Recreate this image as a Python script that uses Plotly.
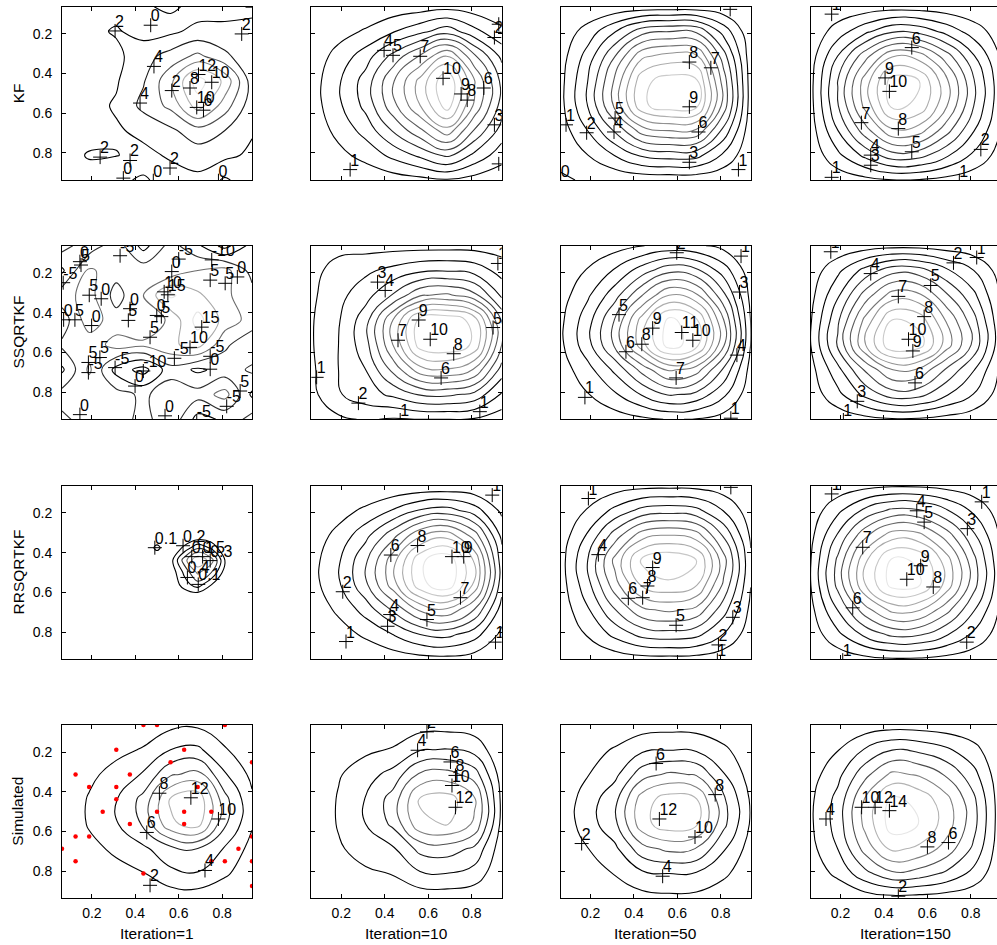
import plotly.graph_objects as go

W, H = 997, 945
FONT = "Liberation Sans, Arial, Helvetica, sans-serif"

# Regular 8x8 sampling grid of the unit-square domain (cell centres)
grid_xy = [0.0625, 0.1875, 0.3125, 0.4375, 0.5625, 0.6875, 0.8125, 0.9375]

# ---------------- KF ----------------
kf_1 = [
    [1.2, 1.4, 1.3, 0.4, -0.6, 1.0, 1.4, 1.5],
    [1.0, 1.5, 2.2, 1.3, 1.6, 2.6, 2.4, 2.6],
    [0.9, 1.2, 1.5, 3.2, 4.8, 6.5, 4.5, 2.4],
    [1.0, 1.3, 1.8, 3.8, 7.5, 13.0, 9.5, 3.0],
    [1.2, 1.4, 2.2, 4.6, 6.5, 11.0, 7.0, 2.8],
    [1.3, 1.5, 1.8, 2.4, 3.6, 5.2, 4.0, 2.2],
    [1.5, 2.1, 2.05, 1.6, 2.2, 3.0, 2.5, 1.6],
    [1.4, 1.5, 0.6, -0.4, 1.3, 1.5, -0.3, 1.2],
]
kf_10 = [
    [0.03, 0.11, 0.21, 0.36, 0.51, 0.67, 0.43, 0.23],
    [0.16, 0.61, 1.12, 1.92, 2.72, 3.58, 2.30, 1.22],
    [0.36, 1.37, 2.52, 4.32, 6.12, 8.06, 5.18, 2.74],
    [0.49, 1.86, 3.43, 5.88, 8.33, 10.98, 7.06, 3.72],
    [0.47, 1.79, 3.29, 5.64, 7.99, 10.53, 6.77, 3.57],
    [0.34, 1.29, 2.38, 4.08, 5.78, 7.62, 4.90, 2.58],
    [0.19, 0.72, 1.33, 2.28, 3.23, 4.26, 2.74, 1.44],
    [0.04, 0.15, 0.28, 0.48, 0.68, 0.90, 0.58, 0.30],
]
kf_50 = [
    [0.03, 0.12, 0.26, 0.40, 0.43, 0.42, 0.23, 0.02],
    [0.32, 1.43, 2.94, 4.60, 4.97, 4.83, 2.62, 0.23],
    [0.55, 2.42, 4.99, 7.80, 8.42, 8.19, 4.45, 0.39],
    [0.68, 3.01, 6.21, 9.70, 10.48, 10.19, 5.53, 0.49],
    [0.69, 3.04, 6.27, 9.80, 10.58, 10.29, 5.59, 0.49],
    [0.46, 2.02, 4.16, 6.50, 7.02, 6.83, 3.71, 0.33],
    [0.22, 0.99, 2.05, 3.20, 3.46, 3.36, 1.82, 0.16],
    [-0.10, 0.09, 0.19, 0.30, 0.32, 0.32, 0.17, 0.02],
]
kf_150 = [
    [0.04, 0.21, 0.38, 0.54, 0.51, 0.37, 0.21, 0.07],
    [0.25, 1.48, 2.74, 3.85, 3.67, 2.66, 1.51, 0.47],
    [0.52, 3.03, 5.62, 7.92, 7.55, 5.48, 3.11, 0.96],
    [0.69, 4.02, 7.45, 10.49, 10.00, 7.25, 4.12, 1.27],
    [0.67, 3.94, 7.30, 10.27, 9.79, 7.10, 4.03, 1.25],
    [0.51, 2.99, 5.55, 7.81, 7.45, 5.40, 3.07, 0.95],
    [0.30, 1.76, 3.27, 4.60, 4.39, 3.18, 1.81, 0.56],
    [0.06, 0.37, 0.68, 0.96, 0.92, 0.67, 0.38, 0.12],
]

# ---------------- SSQRTKF ----------------
ssq_1 = [
    [2.0, -3.0, 3.0, -7.0, 2.0, -4.0, -12.0, -3.0],
    [-6.0, 6.0, 2.0, 3.0, 1.0, 5.0, 7.0, -2.0],
    [3.0, 7.0, -2.0, 5.0, 16.0, 11.0, 6.0, 2.0],
    [-3.0, 8.0, 2.0, 1.0, 6.0, 17.0, 8.0, 3.0],
    [1.0, 2.0, 7.0, 6.0, 9.0, 12.0, 1.0, -4.0],
    [-6.0, 6.0, -7.0, -12.0, -2.0, -6.0, -3.0, 1.0],
    [2.0, 1.0, 2.0, -1.0, 3.0, 2.0, 7.0, -6.0],
    [-1.0, 2.0, 3.0, -2.0, 4.0, -7.0, -4.0, 2.0],
]
ssq_10 = [
    [0.3, 0.6, 0.6, 0.6, 0.6, 0.6, 0.6, 0.5],
    [0.6, 1.5, 1.8, 2.3, 2.8, 2.9, 2.6, 1.6],
    [0.8, 1.7, 2.6, 4.1, 5.9, 6.2, 5.3, 2.8],
    [0.9, 1.9, 3.6, 7.0, 10.4, 10.8, 9.6, 4.9],
    [0.9, 2.0, 3.6, 7.0, 10.5, 10.9, 9.8, 5.0],
    [0.8, 2.0, 3.0, 5.3, 7.6, 7.9, 6.9, 3.6],
    [0.7, 1.9, 2.6, 3.2, 4.1, 4.2, 3.7, 1.9],
    [0.3, 0.8, 1.1, 0.9, 1.0, 1.0, 0.9, 0.4],
]
ssq_50 = [
    [0.09, 0.30, 0.58, 0.97, 1.30, 1.17, 0.69, 0.11],
    [0.32, 1.08, 2.12, 3.52, 4.72, 4.24, 2.52, 0.40],
    [0.54, 1.84, 3.60, 5.98, 8.02, 7.21, 4.28, 0.68],
    [0.77, 2.59, 5.09, 8.45, 11.33, 10.18, 6.05, 0.96],
    [0.78, 2.65, 5.19, 8.62, 11.56, 10.39, 6.17, 0.98],
    [0.49, 1.65, 3.23, 5.37, 7.20, 6.47, 3.84, 0.61],
    [0.28, 0.95, 1.86, 3.08, 4.13, 3.71, 2.21, 0.35],
    [0.07, 0.24, 0.48, 0.79, 1.06, 0.95, 0.57, 0.09],
]
ssq_150 = [
    [0.06, 0.25, 0.48, 0.66, 0.64, 0.46, 0.29, 0.08],
    [0.42, 1.76, 3.36, 4.62, 4.45, 3.19, 2.02, 0.55],
    [0.68, 2.86, 5.44, 7.48, 7.21, 5.17, 3.26, 0.88],
    [0.91, 3.82, 7.28, 10.01, 9.65, 6.92, 4.37, 1.18],
    [0.99, 4.16, 7.92, 10.89, 10.49, 7.52, 4.75, 1.29],
    [0.64, 2.69, 5.12, 7.04, 6.78, 4.86, 3.07, 0.83],
    [0.41, 1.72, 3.28, 4.51, 4.35, 3.12, 1.97, 0.53],
    [0.08, 0.34, 0.64, 0.88, 0.85, 0.61, 0.38, 0.10],
]

# ---------------- RRSQRTKF ----------------
# first iteration: only a small local bump, sampled on a refined grid
rrs_1_x = [0.0625, 0.4375, 0.5, 0.5625, 0.625, 0.6875, 0.75, 0.8125, 0.9375]
rrs_1_y = [0.0625, 0.3125, 0.375, 0.4375, 0.5, 0.5625, 0.625, 0.9375]
rrs_1 = [
    [0, 0, 0, 0, 0, 0, 0, 0, 0],
    [0, 0, 0, 0, 0, 0, 0, 0, 0],
    [0, 0, 0.13, 0, 0.12, 0.28, 0.18, 0, 0],
    [0, 0, 0, 0.05, 0.35, 0.60, 0.45, 0.10, 0],
    [0, 0, 0, 0.02, 0.22, 0.42, 0.30, 0.05, 0],
    [0, 0, 0, 0, 0.15, 0.25, 0.10, 0, 0],
    [0, 0, 0, 0, 0, 0, 0, 0, 0],
    [0, 0, 0, 0, 0, 0, 0, 0, 0],
]
rrs_10 = [
    [0.01, 0.04, 0.08, 0.13, 0.20, 0.22, 0.16, 0.05],
    [0.19, 0.59, 1.21, 2.08, 3.10, 3.41, 2.48, 0.78],
    [0.41, 1.31, 2.69, 4.62, 6.90, 7.59, 5.52, 1.73],
    [0.59, 1.86, 3.82, 6.57, 9.80, 10.78, 7.84, 2.45],
    [0.58, 1.84, 3.78, 6.50, 9.70, 10.67, 7.76, 2.43],
    [0.37, 1.18, 2.42, 4.15, 6.20, 6.82, 4.96, 1.55],
    [0.18, 0.57, 1.17, 2.01, 3.00, 3.30, 2.40, 0.75],
    [0.04, 0.11, 0.23, 0.40, 0.60, 0.66, 0.48, 0.15],
]
rrs_50 = [
    [0.04, 0.22, 0.46, 0.67, 0.71, 0.66, 0.39, 0.08],
    [0.21, 1.09, 2.28, 3.33, 3.57, 3.29, 1.96, 0.42],
    [0.41, 2.14, 4.49, 6.56, 7.04, 6.49, 3.86, 0.83],
    [0.58, 3.01, 6.31, 9.22, 9.89, 9.12, 5.43, 1.16],
    [0.52, 2.67, 5.59, 8.17, 8.77, 8.08, 4.82, 1.03],
    [0.37, 1.89, 3.97, 5.80, 6.22, 5.73, 3.42, 0.73],
    [0.21, 1.09, 2.28, 3.33, 3.57, 3.29, 1.96, 0.42],
    [0.04, 0.19, 0.39, 0.57, 0.61, 0.56, 0.34, 0.07],
]
rrs_150 = [
    [0.08, 0.35, 0.65, 0.85, 0.82, 0.62, 0.36, 0.10],
    [0.40, 1.76, 3.24, 4.24, 4.12, 3.12, 1.80, 0.48],
    [0.71, 3.12, 5.75, 7.53, 7.31, 5.54, 3.20, 0.85],
    [0.96, 4.22, 7.78, 10.18, 9.89, 7.49, 4.32, 1.15],
    [0.98, 4.31, 7.94, 10.39, 10.09, 7.64, 4.41, 1.18],
    [0.69, 3.04, 5.59, 7.31, 7.11, 5.38, 3.11, 0.83],
    [0.40, 1.76, 3.24, 4.24, 4.12, 3.12, 1.80, 0.48],
    [0.08, 0.35, 0.65, 0.85, 0.82, 0.62, 0.36, 0.10],
]

# ---------------- Simulated (truth) ----------------
sim_1 = [
    [0.04, 0.20, 0.40, 0.82, 1.50, 1.66, 0.82, 0.29],
    [0.10, 0.70, 1.40, 2.18, 4.00, 4.42, 2.18, 0.77],
    [0.19, 1.50, 2.80, 4.22, 7.75, 8.56, 4.22, 1.49],
    [0.29, 2.20, 3.90, 6.66, 12.25, 13.52, 6.66, 2.35],
    [0.28, 2.20, 3.80, 6.32, 11.63, 12.83, 6.32, 2.23],
    [0.13, 1.40, 2.40, 3.60, 5.38, 5.93, 3.80, 1.30],
    [0.08, 0.70, 1.30, 1.90, 3.50, 3.86, 2.30, 0.80],
    [0.02, 0.15, 0.30, 0.41, 0.75, 0.83, 0.41, 0.14],
]
sim_10 = [
    [0.0, 0.19, 0.40, 0.63, 1.13, 1.19, 0.95, 0.14],
    [0.0, 0.90, 1.60, 2.17, 3.88, 4.09, 3.26, 0.47],
    [0.0, 1.80, 3.20, 4.69, 8.38, 8.84, 7.04, 1.01],
    [0.0, 2.20, 4.10, 6.86, 12.25, 12.94, 10.29, 1.47],
    [0.0, 2.20, 4.00, 6.44, 11.50, 12.14, 9.66, 1.38],
    [0.0, 1.70, 3.00, 3.71, 6.63, 7.00, 5.57, 0.80],
    [0.0, 0.90, 1.60, 2.10, 3.75, 3.96, 3.15, 0.45],
    [0.0, 0.13, 0.30, 0.42, 0.75, 0.79, 0.63, 0.09],
]
sim_50 = [
    [0.06, 0.28, 0.50, 1.04, 1.22, 1.13, 0.60, 0.16],
    [0.30, 1.20, 2.20, 3.60, 3.90, 3.70, 2.40, 0.70],
    [0.43, 1.92, 3.47, 7.13, 8.37, 7.81, 4.15, 1.12],
    [0.67, 2.98, 5.38, 11.04, 12.96, 12.10, 6.43, 1.73],
    [0.69, 3.04, 5.49, 11.27, 13.23, 12.35, 6.57, 1.76],
    [0.44, 1.95, 3.53, 7.25, 8.51, 7.94, 4.22, 1.13],
    [0.30, 1.20, 2.10, 3.60, 4.00, 3.80, 2.40, 0.70],
    [0.08, 0.34, 0.62, 1.27, 1.49, 1.39, 0.74, 0.20],
]
sim_150 = [
    [0.12, 0.34, 0.75, 1.06, 0.99, 0.78, 0.48, 0.06],
    [0.66, 1.91, 4.17, 5.93, 5.50, 4.37, 2.65, 0.31],
    [1.17, 3.38, 7.38, 10.49, 9.73, 7.73, 4.69, 0.55],
    [1.62, 4.66, 10.17, 14.44, 13.40, 10.64, 6.46, 0.76],
    [1.68, 4.85, 10.59, 15.05, 13.96, 11.09, 6.73, 0.79],
    [1.39, 4.02, 8.77, 12.46, 11.56, 9.18, 5.58, 0.66],
    [0.85, 2.45, 5.35, 7.60, 7.05, 5.60, 3.40, 0.40],
    [0.14, 0.39, 0.86, 1.22, 1.13, 0.90, 0.54, 0.06],
]

# Observation locations
obs_x = [0.4375, 0.5, 0.8125, 0.3125, 0.625, 0.5625, 0.9375, 0.125, 0.375,
         0.1875, 0.3125, 0.6875, 0.3125, 0.25, 0.5, 0.625, 0.75, 0.375, 0.625,
         0.125, 0.1875, 0.9375, 0.0625, 0.875, 0.125, 0.75, 0.8125, 0.9375,
         0.4375, 0.9375]
obs_y = [0.0625, 0.0625, 0.0625, 0.1875, 0.1875, 0.25, 0.25, 0.3125, 0.3125,
         0.375, 0.375, 0.375, 0.4375, 0.5, 0.5, 0.5, 0.5, 0.5625, 0.5625,
         0.625, 0.625, 0.625, 0.6875, 0.6875, 0.75, 0.75, 0.75, 0.75,
         0.8125, 0.875]

# Contour labels (x, y, level text)
kf_1_labels = [(0.307, 0.185, "2"), (0.471, 0.156, "0"), (0.89, 0.2, "2"),
               (0.486, 0.364, "4"), (0.691, 0.405, "12"), (0.752, 0.444, "10"),
               (0.652, 0.473, "8"), (0.568, 0.486, "2"), (0.422, 0.549, "4"),
               (0.683, 0.571, "10"), (0.714, 0.585, "6"), (0.238, 0.822, "2"),
               (0.376, 0.839, "2"), (0.345, 0.928, "0"), (0.483, 0.941, "0"),
               (0.56, 0.877, "2"), (0.783, 0.941, "0"), (0.94, 0.065, "")]
kf_10_labels = [(0.397, 0.283, "4"), (0.438, 0.308, "5"), (0.563, 0.313, "7"),
                (0.668, 0.424, "10"), (0.751, 0.503, "9"), (0.779, 0.534, "8"),
                (0.855, 0.473, "6"), (0.904, 0.218, "2"), (0.924, 0.151, ""),
                (0.904, 0.659, "3"), (0.924, 0.856, ""), (0.241, 0.885, "1")]
kf_50_labels = [(0.655, 0.342, "8"), (0.754, 0.371, "7"), (0.655, 0.568, "9"),
                (0.697, 0.695, "6"), (0.655, 0.848, "3"), (0.881, 0.885, "1"),
                (0.843, 0.076, ""), (0.313, 0.625, "5"), (0.308, 0.695, "4"),
                (0.182, 0.699, "2"), (0.087, 0.659, "1"), (0.0625, 0.941, "0")]
kf_150_labels = [(0.159, 0.1, "1"), (0.528, 0.269, "6"), (0.405, 0.422, "9"),
                 (0.425, 0.49, "10"), (0.296, 0.648, "7"), (0.466, 0.678, "8"),
                 (0.528, 0.795, "5"), (0.339, 0.812, "4"), (0.339, 0.863, "3"),
                 (0.846, 0.783, "2"), (0.159, 0.924, "1"), (0.747, 0.941, "1")]

ssq_1_labels = [(0.145, 0.143, "0"), (0.15, 0.16, "5"), (0.068, 0.249, "-5"),
                (0.188, 0.312, "5"), (0.243, 0.33, "0"), (0.33, 0.113, "-5"),
                (0.568, 0.193, "0"), (0.6, 0.13, "-5"), (0.752, 0.134, "-10"),
                (0.745, 0.236, "5"), (0.814, 0.252, "5"), (0.87, 0.22, "0"),
                (0.533, 0.295, "10"), (0.55, 0.31, "15"), (0.376, 0.38, "0"),
                (0.368, 0.439, "5"), (0.499, 0.414, "0"), (0.52, 0.42, "5"),
                (0.468, 0.524, "5"), (0.706, 0.473, "15"), (0.652, 0.575, "10"),
                (0.122, 0.436, "5"), (0.07, 0.436, "0"), (0.199, 0.465, "0"),
                (0.237, 0.626, "5"), (0.184, 0.651, "5"), (0.184, 0.702, "-5"),
                (0.307, 0.677, "-5"), (0.437, 0.694, "-10"), (0.399, 0.77, "0"),
                (0.58, 0.63, "-5"), (0.745, 0.685, "0"), (0.745, 0.62, "-5"),
                (0.145, 0.914, "0"), (0.537, 0.92, "0"), (0.683, 0.948, "-5"),
                (0.821, 0.872, "-5"), (0.883, 0.795, "5")]
ssq_10_labels = [(0.367, 0.246, "3"), (0.402, 0.288, "4"), (0.556, 0.437, "9"),
                 (0.461, 0.539, "7"), (0.609, 0.534, "10"), (0.717, 0.607, "8"),
                 (0.659, 0.729, "6"), (0.898, 0.475, "5"), (0.92, 0.152, "1"),
                 (0.087, 0.726, "1"), (0.279, 0.856, "2"), (0.471, 0.941, "1"),
                 (0.837, 0.899, "1")]
ssq_50_labels = [(0.597, 0.098, "2"), (0.893, 0.115, "1"), (0.886, 0.296, "3"),
                 (0.331, 0.41, "5"), (0.486, 0.478, "9"), (0.436, 0.559, "8"),
                 (0.363, 0.597, "6"), (0.62, 0.5, "11"), (0.671, 0.539, "10"),
                 (0.594, 0.729, "7"), (0.874, 0.614, "4"), (0.174, 0.827, "1"),
                 (0.846, 0.932, "1")]
ssq_150_labels = [(0.155, 0.093, "1"), (0.339, 0.203, "4"), (0.72, 0.149, "2"),
                  (0.827, 0.122, "1"), (0.615, 0.263, "5"), (0.466, 0.318, "7"),
                  (0.585, 0.42, "8"), (0.513, 0.534, "10"), (0.533, 0.593, "9"),
                  (0.543, 0.754, "6"), (0.277, 0.847, "3"), (0.213, 0.941, "1")]

rrs_1_labels = [(0.49, 0.375, "0.1"), (0.62, 0.365, "0.2"), (0.66, 0.42, "0.1"),
                (0.71, 0.42, "0.5"), (0.745, 0.44, "0.3"), (0.64, 0.525, "0.4"),
                (0.69, 0.56, "0.1")]
rrs_10_labels = [(0.894, 0.11, "1"), (0.428, 0.412, "6"), (0.551, 0.364, "8"),
                 (0.709, 0.42, "10"), (0.763, 0.42, "9"), (0.207, 0.597, "2"),
                 (0.748, 0.627, "7"), (0.425, 0.712, "4"), (0.413, 0.771, "3"),
                 (0.594, 0.737, "5"), (0.222, 0.848, "1"), (0.909, 0.851, "1")]
rrs_50_labels = [(0.19, 0.127, "1"), (0.846, 0.071, "1"), (0.236, 0.41, "4"),
                 (0.486, 0.475, "9"), (0.462, 0.568, "8"), (0.44, 0.627, "7"),
                 (0.374, 0.63, "6"), (0.594, 0.766, "5"), (0.855, 0.726, "3"),
                 (0.789, 0.865, "2"), (0.784, 0.942, "1")]
rrs_150_labels = [(0.159, 0.104, "1"), (0.551, 0.189, "4"), (0.585, 0.246, "5"),
                  (0.784, 0.279, "3"), (0.85, 0.144, "1"), (0.302, 0.373, "7"),
                  (0.569, 0.466, "9"), (0.505, 0.534, "10"), (0.627, 0.573, "8"),
                  (0.256, 0.678, "6"), (0.781, 0.851, "2"), (0.21, 0.942, "1")]

sim_1_labels = [(0.511, 0.407, "8"), (0.656, 0.43, "12"), (0.783, 0.537, "10"),
                (0.453, 0.605, "6"), (0.721, 0.797, "4"), (0.468, 0.872, "2")]
sim_10_labels = [(0.594, 0.097, "2"), (0.551, 0.19, "4"), (0.702, 0.249, "6"),
                 (0.725, 0.317, "8"), (0.709, 0.368, "10"), (0.725, 0.478, "12")]
sim_50_labels = [(0.502, 0.257, "6"), (0.774, 0.414, "8"), (0.517, 0.537, "12"),
                 (0.681, 0.628, "10"), (0.159, 0.661, "2"), (0.532, 0.826, "4")]
sim_150_labels = [(0.133, 0.537, "4"), (0.297, 0.478, "10"), (0.359, 0.478, "12"),
                  (0.425, 0.495, "14"), (0.6, 0.678, "8"), (0.697, 0.656, "6"),
                  (0.466, 0.927, "2")]

row_names = ["KF", "SSQRTKF", "RRSQRTKF", "Simulated"]
col_names = ["Iteration=1", "Iteration=10", "Iteration=50", "Iteration=150"]
tick_vals = [0.2, 0.4, 0.6, 0.8]

fields = [
    [kf_1, kf_10, kf_50, kf_150],
    [ssq_1, ssq_10, ssq_50, ssq_150],
    [rrs_1, rrs_10, rrs_50, rrs_150],
    [sim_1, sim_10, sim_50, sim_150],
]
labels = [
    [kf_1_labels, kf_10_labels, kf_50_labels, kf_150_labels],
    [ssq_1_labels, ssq_10_labels, ssq_50_labels, ssq_150_labels],
    [rrs_1_labels, rrs_10_labels, rrs_50_labels, rrs_150_labels],
    [sim_1_labels, sim_10_labels, sim_50_labels, sim_150_labels],
]
# (start, end, step) of contour levels
levels = [
    [(0, 12, 2), (0, 11, 1), (0, 11, 1), (0, 11, 1)],
    [(-10, 15, 5), (0, 11, 1), (0, 11, 1), (0, 11, 1)],
    [(0.1, 0.6, 0.1), (0, 10, 1), (0, 10, 1), (0, 10, 1)],
    [(2, 14, 2), (2, 14, 2), (2, 14, 2), (2, 14, 2)],
]

# Panel placement in pixels
col_px = [(62.0, 252.0), (311.3, 501.7), (560.7, 750.7), (810.7, 1000.7)]
row_px = [(6.7, 180.0), (245.7, 419.3), (485.7, 659.3), (725.0, 898.3)]
X0, X1 = 0.0625, 0.9375

gray_scale = [[0.0, "#000000"], [0.25, "#000000"], [1.0, "#e6e6e6"]]

fig = go.Figure()
layout = dict(
    width=W, height=H,
    margin=dict(l=0, r=0, t=0, b=0),
    paper_bgcolor="white", plot_bgcolor="white",
    showlegend=False,
    font=dict(family=FONT, size=14, color="black"),
)

for r in range(4):
    for c in range(4):
        k = r * 4 + c + 1
        xa = "x" if k == 1 else f"x{k}"
        ya = "y" if k == 1 else f"y{k}"
        z = fields[r][c]
        if r == 2 and c == 0:
            gx, gy = rrs_1_x, rrs_1_y
        else:
            gx, gy = grid_xy, grid_xy
        noisy = (c == 0 and r < 3)
        s, e, d = levels[r][c]
        fig.add_trace(go.Contour(
            x=gx, y=gy, z=z, xaxis=xa, yaxis=ya,
            autocontour=False,
            contours=dict(start=s, end=e, size=d, coloring="lines", showlabels=False),
            line=dict(width=1.1, smoothing=(1.0 if noisy else 1.3)),
            colorscale=gray_scale, showscale=False, hoverinfo="skip",
        ))
        if r == 3 and c == 0:
            fig.add_trace(go.Scatter(
                x=obs_x, y=obs_y, xaxis=xa, yaxis=ya, mode="markers",
                marker=dict(color="red", size=4.5, line=dict(width=0)),
                hoverinfo="skip",
            ))
        lab = labels[r][c]
        lx = [p[0] for p in lab]
        ly = [p[1] for p in lab]
        # "+" marks where each label sits on its contour
        fig.add_trace(go.Scatter(
            x=lx, y=ly, xaxis=xa, yaxis=ya, mode="markers",
            marker=dict(symbol="cross-thin", size=10, color="black",
                        line=dict(width=1, color="black")),
            hoverinfo="skip",
        ))
        # level value written just above-right of the "+"
        fig.add_trace(go.Scatter(
            x=lx, y=ly, text=[p[2] for p in lab], xaxis=xa, yaxis=ya,
            mode="text", marker=dict(size=1),
            textposition="top right",
            textfont=dict(family=FONT, size=16, color="black"),
            hoverinfo="skip",
        ))

        px0, px1 = col_px[c]
        py0, py1 = row_px[r]
        right_px = min(px1, W)
        xr1 = X0 + (X1 - X0) * (right_px - px0) / (px1 - px0)
        last_col = c == 3
        layout["xaxis" if k == 1 else f"xaxis{k}"] = dict(
            domain=[px0 / W, right_px / W], range=[X0, xr1], anchor=ya,
            showline=True, linecolor="black", linewidth=1, mirror="ticks",
            ticks="inside", ticklen=4, tickwidth=1, tickcolor="black",
            tickvals=tick_vals, showticklabels=(r == 3), ticklabelstandoff=2,
            tickfont=dict(family=FONT, size=14, color="black"),
            showgrid=False, zeroline=False, fixedrange=True,
        )
        layout["yaxis" if k == 1 else f"yaxis{k}"] = dict(
            domain=[(H - py1) / H, (H - py0) / H], range=[X1, X0], anchor=xa,
            showline=True, linecolor="black", linewidth=1,
            mirror=(False if last_col else "ticks"),
            ticks="inside", ticklen=4, tickwidth=1, tickcolor="black",
            tickvals=tick_vals, showticklabels=(c == 0), ticklabelstandoff=6,
            tickfont=dict(family=FONT, size=14, color="black"),
            showgrid=False, zeroline=False, fixedrange=True,
        )

annotations = []
for r, name in enumerate(row_names):
    cy = (row_px[r][0] + row_px[r][1]) / 2
    annotations.append(dict(
        text=name, x=18 / W, y=(H - cy) / H, xref="paper", yref="paper",
        textangle=-90, showarrow=False, xanchor="center", yanchor="middle",
        font=dict(family=FONT, size=15.5, color="black"),
    ))
for c, name in enumerate(col_names):
    cx = (col_px[c][0] + col_px[c][1]) / 2
    annotations.append(dict(
        text=name, x=cx / W, y=(H - 933) / H, xref="paper", yref="paper",
        showarrow=False, xanchor="center", yanchor="middle",
        font=dict(family=FONT, size=15.5, color="black"),
    ))
layout["annotations"] = annotations

fig.update_layout(**layout)
fig.write_html("out.html")
